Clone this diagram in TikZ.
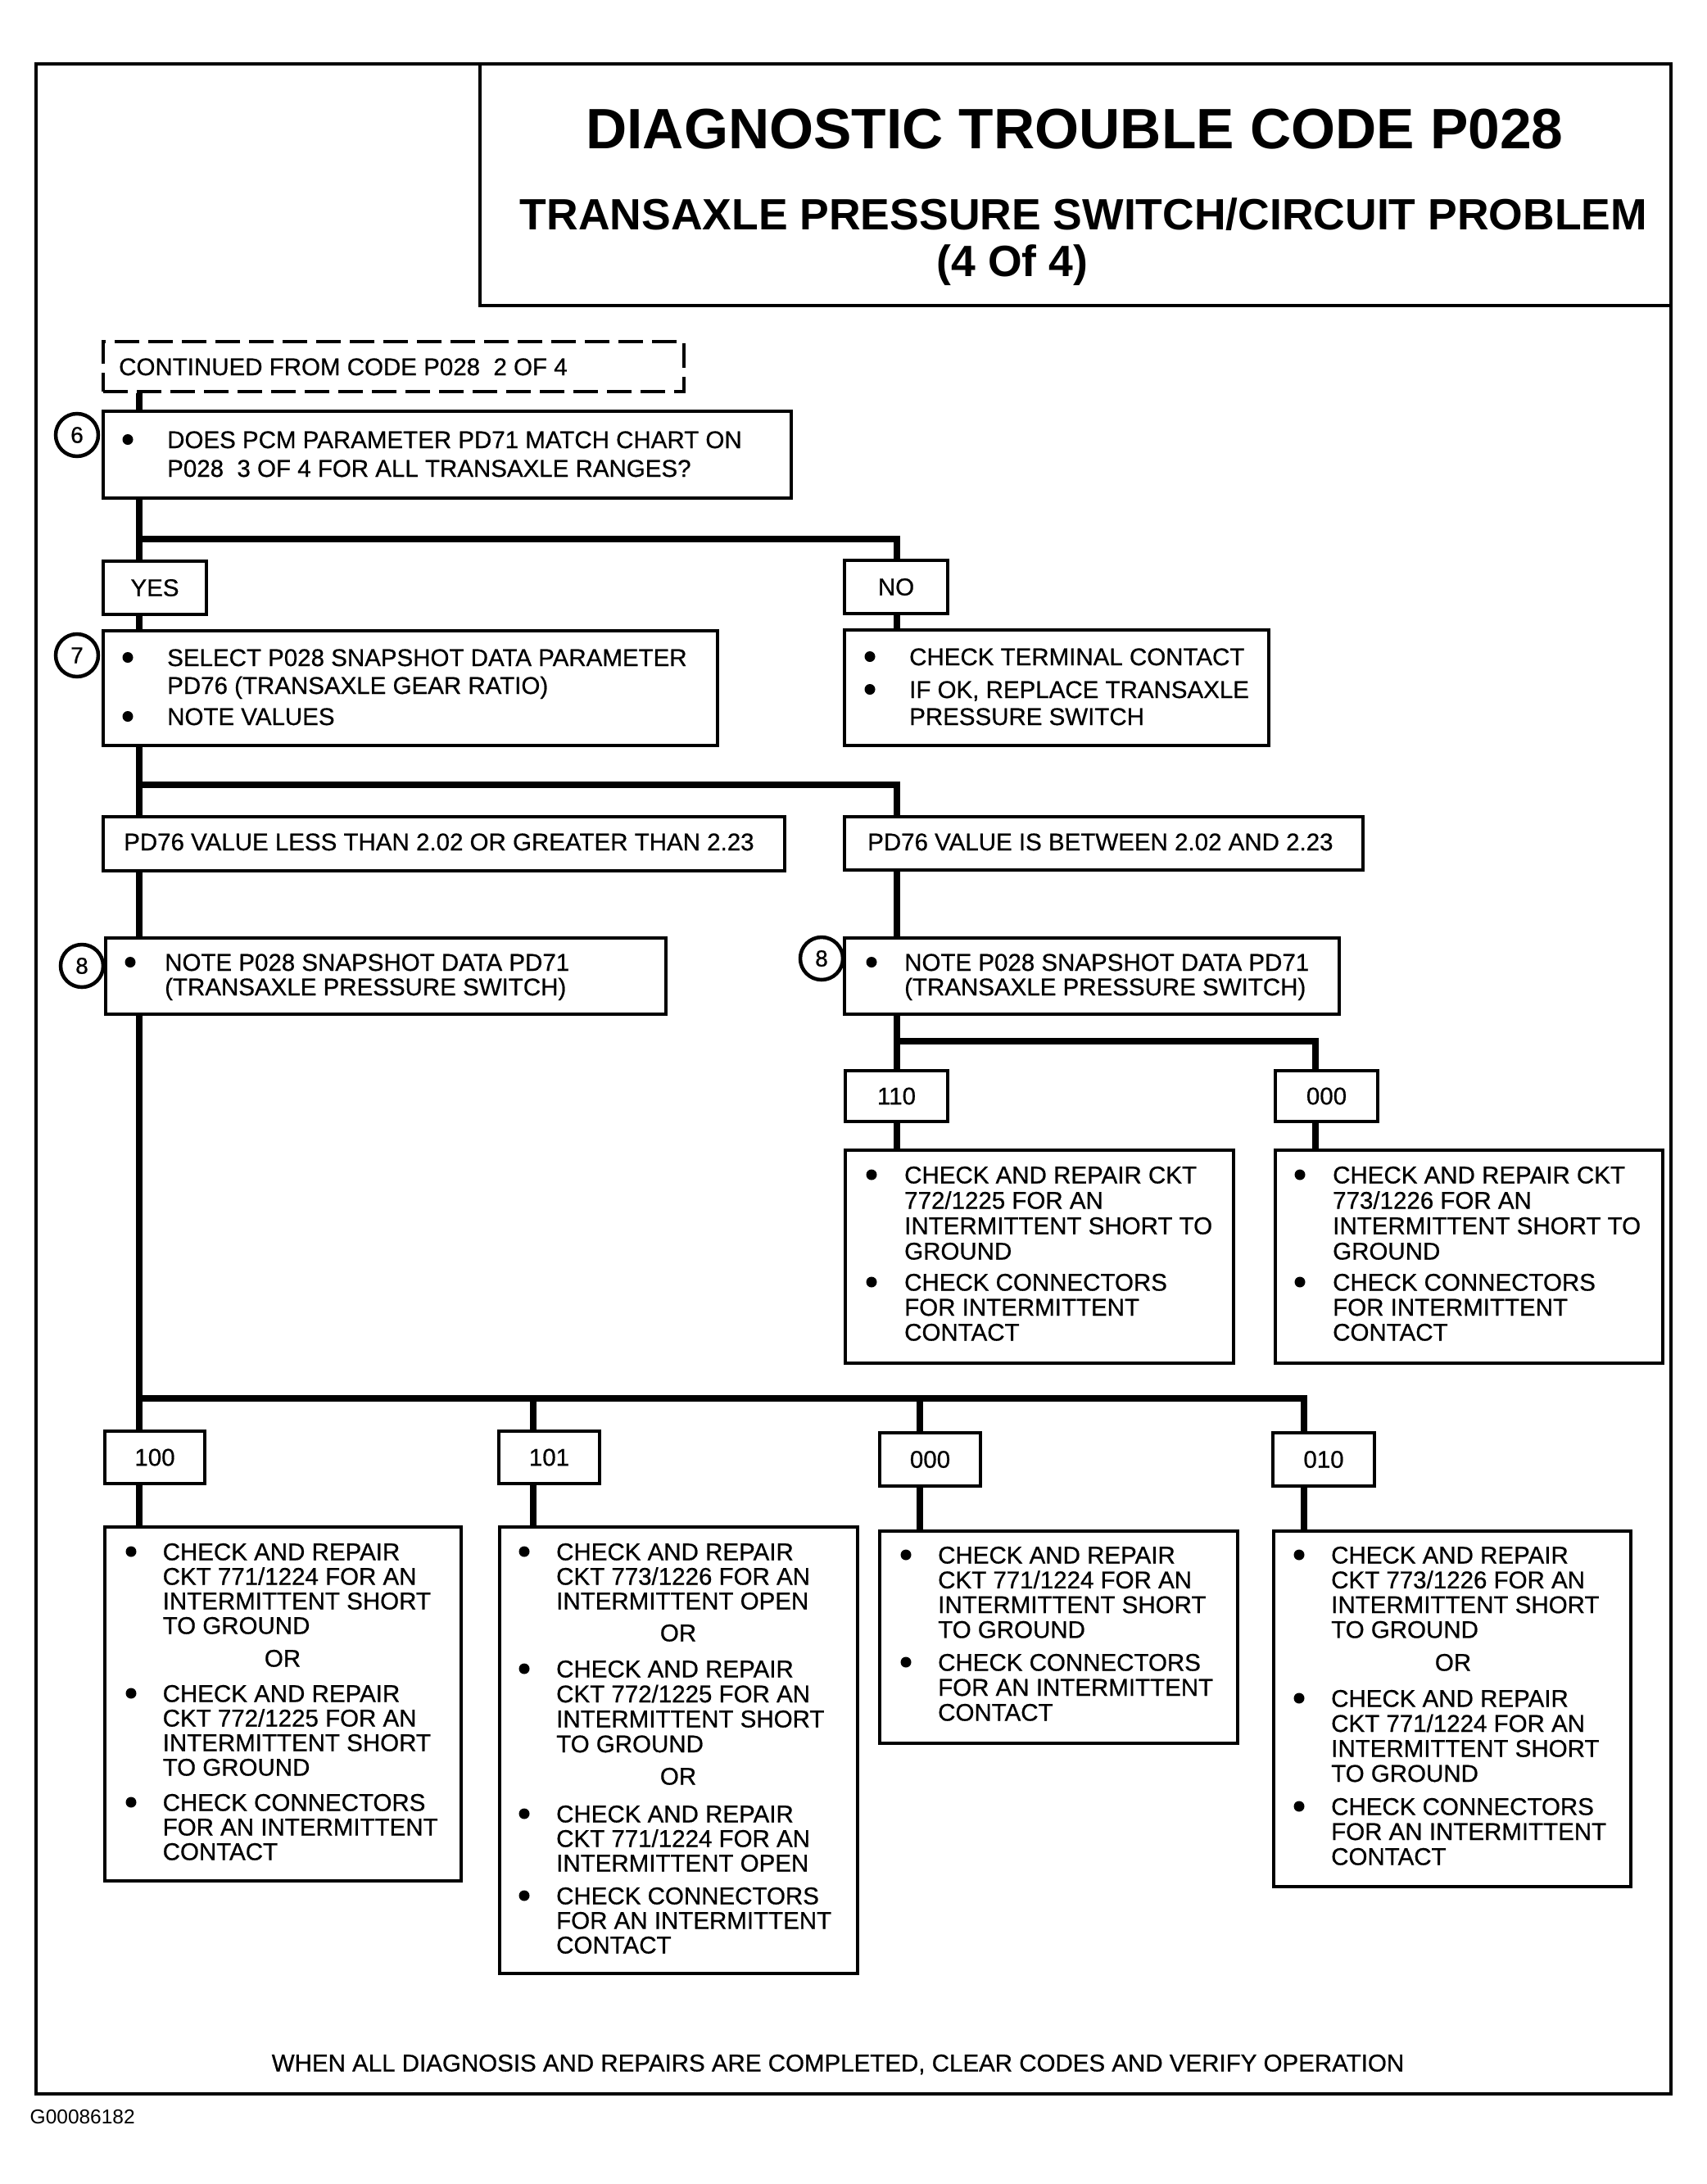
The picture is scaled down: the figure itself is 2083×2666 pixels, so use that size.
\documentclass[tikz,border=0pt]{standalone}
\usepackage{fontspec}
\setmainfont{Liberation Sans}
\newfontfamily\bodyfont[FakeBold=0.6]{Liberation Sans}
\usetikzlibrary{calc}
\newcommand\mlines[2][30.5]{\vtop{\baselineskip=#1pt\lineskiplimit=-1000pt\lineskip=0pt\halign{##\hfil\cr#2\crcr}}}
\newcommand\bx[7][]{\node[box,#1,minimum width={#5pt-#3pt},minimum height={#6pt-#4pt}] (#2) at ({(#3+#5)/2},{(#4+#6)/2}) {#7};}
\tikzset{
  box/.style={draw, line width=3.5pt, inner sep=0pt, fill=white, font=\bodyfont\fontsize{29.5}{30.5}\selectfont},
  frame/.style={draw, line width=4pt, inner sep=0pt, fill=none},
  dbox/.style={draw, line width=4.5pt, inner sep=0pt, dash pattern=on 30pt off 11pt},
  conn/.style={line width=8pt, line join=miter},
  txt/.style={font=\bodyfont\fontsize{29.5}{30.5}\selectfont, inner sep=0pt, anchor=base west},
  ort/.style={font=\bodyfont\fontsize{29.5}{30.5}\selectfont, inner sep=0pt, anchor=base},
  bul/.style={circle, fill, inner sep=0pt, minimum size=13pt, yshift=10.5pt},
  num/.style={draw, circle, line width=4.5pt, minimum size=52pt, inner sep=0pt, fill=white, font=\bodyfont\fontsize{28}{28}\selectfont},
}
\begin{document}
\begin{tikzpicture}[x=1pt,y=-1pt]
\useasboundingbox (0,0) rectangle (2083,2666);
% frame and header
\bx[frame]{frame}{44}{78}{2040}{2556}{}
\bx[frame]{hdr}{586}{78}{2040}{373}{}
\node[font=\fontsize{69.5}{70}\selectfont\bfseries, inner sep=0pt, anchor=base] (t1) at (1312,181) {DIAGNOSTIC TROUBLE CODE P028};
\node[font=\fontsize{53.5}{54}\selectfont\bfseries, inner sep=0pt, anchor=base] (t2) at (1323,280) {TRANSAXLE PRESSURE SWITCH/CIRCUIT PROBLEM};
\node[font=\fontsize{53.5}{54}\selectfont\bfseries, inner sep=0pt, anchor=base] (t3) at (1236,337) {(4 Of 4)};

% boxes
\bx[dbox]{cont}{126}{417}{835}{478}{}
\node[txt] (tcont) at (145,458) {CONTINUED FROM CODE P028\ \ 2 OF 4};

\bx{b6}{126}{502}{966}{608}{}
\bx{yes}{126}{685}{252}{750}{YES}
\bx{no}{1031}{684}{1157}{749}{NO}
\bx{b7}{126}{770}{876}{910}{}
\bx{term}{1031}{769}{1549}{910}{}
\bx{pdl}{126}{997}{958}{1063}{}
\bx{pdr}{1031}{997}{1664}{1062}{}
\bx{b8l}{129}{1145}{813}{1238}{}
\bx{b8r}{1031}{1145}{1635}{1238}{}
\bx{o110}{1032}{1307}{1157}{1369}{110}
\bx{o000r}{1557}{1307}{1682}{1369}{000}
\bx{c772}{1032}{1404}{1506}{1664}{}
\bx{c773}{1557}{1404}{2030}{1664}{}
\bx{o100}{128}{1747}{250}{1811}{100}
\bx{o101}{609}{1747}{732}{1811}{101}
\bx{o000}{1074}{1749}{1197}{1814}{000}
\bx{o010}{1554}{1749}{1678}{1814}{010}
\bx{k100}{128}{1864}{563}{2296}{}
\bx{k101}{610}{1864}{1047}{2409}{}
\bx{k000}{1074}{1869}{1511}{2128}{}
\bx{k010}{1555}{1869}{1991}{2303}{}

% step numbers
\node[num] (c6) at (94,531) {6};
\node[num] (c7) at (94,800) {7};
\node[num] (c8l) at (100,1179) {8};
\node[num] (c8r) at (1003,1170) {8};

% box texts
\node[bul] (u6) at (156,547) {};
\node[txt] (x6) at (204,547) {\mlines[35]{DOES PCM PARAMETER PD71 MATCH CHART ON\cr P028\ \ 3 OF 4 FOR ALL TRANSAXLE RANGES?}};

\node[bul] (u7a) at (156,813) {};
\node[txt] (x7a) at (204,813) {\mlines[34]{SELECT P028 SNAPSHOT DATA PARAMETER\cr PD76 (TRANSAXLE GEAR RATIO)}};
\node[bul] (u7b) at (156,885) {};
\node[txt] (x7b) at (204,885) {NOTE VALUES};

\node[bul] (uta) at (1062,812) {};
\node[txt] (xta) at (1110,812) {CHECK TERMINAL CONTACT};
\node[bul] (utb) at (1062,852) {};
\node[txt] (xtb) at (1110,852) {\mlines[33]{IF OK, REPLACE TRANSAXLE\cr PRESSURE SWITCH}};

\node[txt] (xpl) at (151,1038) {PD76 VALUE LESS THAN 2.02 OR GREATER THAN 2.23};
\node[txt] (xpr) at (1059,1038) {PD76 VALUE IS BETWEEN 2.02 AND 2.23};

\node[bul] (u8l) at (159,1185) {};
\node[txt] (x8l) at (201,1185) {\mlines[30]{NOTE P028 SNAPSHOT DATA PD71\cr (TRANSAXLE PRESSURE SWITCH)}};
\node[bul] (u8r) at (1064,1185) {};
\node[txt] (x8r) at (1104,1185) {\mlines[30]{NOTE P028 SNAPSHOT DATA PD71\cr (TRANSAXLE PRESSURE SWITCH)}};

\node[bul] (u772a) at (1064,1444.5) {};
\node[txt] (x772a) at (1104,1444.5) {\mlines[31]{CHECK AND REPAIR CKT\cr 772/1225 FOR AN\cr INTERMITTENT SHORT TO\cr GROUND}};
\node[bul] (u772b) at (1064,1575.5) {};
\node[txt] (x772b) at (1104,1575.5) {\mlines[30.5]{CHECK CONNECTORS\cr FOR INTERMITTENT\cr CONTACT}};

\node[bul] (u773a) at (1587,1444.5) {};
\node[txt] (x773a) at (1627,1444.5) {\mlines[31]{CHECK AND REPAIR CKT\cr 773/1226 FOR AN\cr INTERMITTENT SHORT TO\cr GROUND}};
\node[bul] (u773b) at (1587,1575.5) {};
\node[txt] (x773b) at (1627,1575.5) {\mlines[30.5]{CHECK CONNECTORS\cr FOR INTERMITTENT\cr CONTACT}};

% box 100
\node[bul] (u100a) at (160,1904.5) {};
\node[txt] (x100a) at (198.5,1904.5) {\mlines[30]{CHECK AND REPAIR\cr CKT 771/1224 FOR AN\cr INTERMITTENT SHORT\cr TO GROUND}};
\node[ort] (or100) at (345,2034.5) {OR};
\node[bul] (u100b) at (160,2077.5) {};
\node[txt] (x100b) at (198.5,2077.5) {\mlines[30]{CHECK AND REPAIR\cr CKT 772/1225 FOR AN\cr INTERMITTENT SHORT\cr TO GROUND}};
\node[bul] (u100c) at (160,2210.5) {};
\node[txt] (x100c) at (198.5,2210.5) {\mlines[30]{CHECK CONNECTORS\cr FOR AN INTERMITTENT\cr CONTACT}};

% box 101
\node[bul] (u101a) at (640,1904.5) {};
\node[txt] (x101a) at (679,1904.5) {\mlines[30]{CHECK AND REPAIR\cr CKT 773/1226 FOR AN\cr INTERMITTENT OPEN}};
\node[ort] (or101a) at (828,2003.5) {OR};
\node[bul] (u101b) at (640,2047.5) {};
\node[txt] (x101b) at (679,2047.5) {\mlines[30.5]{CHECK AND REPAIR\cr CKT 772/1225 FOR AN\cr INTERMITTENT SHORT\cr TO GROUND}};
\node[ort] (or101b) at (828,2178.5) {OR};
\node[bul] (u101c) at (640,2224.5) {};
\node[txt] (x101c) at (679,2224.5) {\mlines[30]{CHECK AND REPAIR\cr CKT 771/1224 FOR AN\cr INTERMITTENT OPEN}};
\node[bul] (u101d) at (640,2324.5) {};
\node[txt] (x101d) at (679,2324.5) {\mlines[30]{CHECK CONNECTORS\cr FOR AN INTERMITTENT\cr CONTACT}};

% box 000
\node[bul] (u000a) at (1106,1908.5) {};
\node[txt] (x000a) at (1145,1908.5) {\mlines[30.3]{CHECK AND REPAIR\cr CKT 771/1224 FOR AN\cr INTERMITTENT SHORT\cr TO GROUND}};
\node[bul] (u000b) at (1106,2039.5) {};
\node[txt] (x000b) at (1145,2039.5) {\mlines[30.5]{CHECK CONNECTORS\cr FOR AN INTERMITTENT\cr CONTACT}};

% box 010
\node[bul] (u010a) at (1586,1908.5) {};
\node[txt] (x010a) at (1625,1908.5) {\mlines[30.3]{CHECK AND REPAIR\cr CKT 773/1226 FOR AN\cr INTERMITTENT SHORT\cr TO GROUND}};
\node[ort] (or010) at (1774,2039.5) {OR};
\node[bul] (u010b) at (1586,2083.5) {};
\node[txt] (x010b) at (1625,2083.5) {\mlines[30.5]{CHECK AND REPAIR\cr CKT 771/1224 FOR AN\cr INTERMITTENT SHORT\cr TO GROUND}};
\node[bul] (u010c) at (1586,2215.5) {};
\node[txt] (x010c) at (1625,2215.5) {\mlines[30.5]{CHECK CONNECTORS\cr FOR AN INTERMITTENT\cr CONTACT}};

% footer
\node[ort] (foot) at (1023,2528.5) {WHEN ALL DIAGNOSIS AND REPAIRS ARE COMPLETED, CLEAR CODES AND VERIFY OPERATION};
\node[txt, font=\fontsize{24.5}{25}\selectfont] (gid) at (36.5,2592) {G00086182};

% connector junctions
\coordinate (tA) at (170,658);
\coordinate (tB) at (1095,658);
\coordinate (tC) at (170,958);
\coordinate (tD) at (1095,958);
\coordinate (tE) at (1095,1271);
\coordinate (tF) at (1606,1271);
\coordinate (tG) at (170,1707);
\coordinate (tH) at (651,1707);
\coordinate (tI) at (1123,1707);
\coordinate (tJ) at (1592,1707);

\draw[conn] (cont.south -| tA) -- (b6.north -| tA);
\draw[conn] (b6.south -| tA) -- (yes.north -| tA);
\draw[conn] (tA) -- (tB) -- (no.north -| tB);
\draw[conn] (yes.south -| tA) -- (b7.north -| tA);
\draw[conn] (no.south -| tB) -- (term.north -| tB);
\draw[conn] (b7.south -| tC) -- (pdl.north -| tC);
\draw[conn] (tC) -- (tD) -- (pdr.north -| tD);
\draw[conn] (pdl.south -| tC) -- (b8l.north -| tC);
\draw[conn] (pdr.south -| tD) -- (b8r.north -| tD);
\draw[conn] (b8r.south -| tE) -- (o110.north -| tE);
\draw[conn] (tE) -- (tF) -- (o000r.north -| tF);
\draw[conn] (o110.south -| tE) -- (c772.north -| tE);
\draw[conn] (o000r.south -| tF) -- (c773.north -| tF);
\draw[conn] (b8l.south -| tG) -- (o100.north -| tG);
\draw[conn] (tG) -- (tJ) -- (o010.north -| tJ);
\draw[conn] (tH) -- (o101.north -| tH);
\draw[conn] (tI) -- (o000.north -| tI);
\draw[conn] (o100.south -| tG) -- (k100.north -| tG);
\draw[conn] (o101.south -| tH) -- (k101.north -| tH);
\draw[conn] (o000.south -| tI) -- (k000.north -| tI);
\draw[conn] (o010.south -| tJ) -- (k010.north -| tJ);
\end{tikzpicture}
\end{document}
